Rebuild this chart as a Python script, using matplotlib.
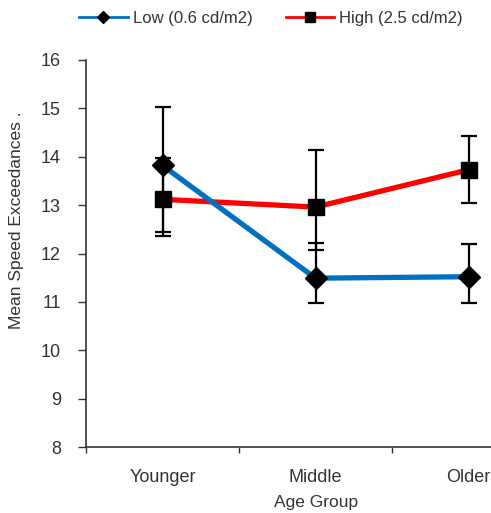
import numpy as np
import matplotlib.pyplot as plt
from matplotlib.lines import Line2D

plt.rcParams['font.family'] = ['Liberation Sans', 'DejaVu Sans']

groups = ['Younger', 'Middle', 'Older']
low_mean = [13.82, 11.49, 11.52]
low_up = [15.03, 12.21, 12.20]
low_down = [12.37, 10.98, 10.98]
high_mean = [13.12, 12.96, 13.73]
high_up = [13.98, 14.13, 14.43]
high_down = [12.44, 12.07, 13.05]

x = np.arange(len(groups))
low_err = [np.subtract(low_mean, low_down), np.subtract(low_up, low_mean)]
high_err = [np.subtract(high_mean, high_down), np.subtract(high_up, high_mean)]

fig = plt.figure(figsize=(4.91, 5.13), dpi=100)
ax = fig.add_axes([86/491, 1-447/513, 459/491, 387/513])

ax.errorbar(x, low_mean, yerr=low_err, color='#0070C0', lw=3.8, marker='D', ms=11,
            mfc='black', mec='black', ecolor='black', elinewidth=1.6, capsize=6,
            capthick=1.6, zorder=3)
ax.errorbar(x, high_mean, yerr=high_err, color='#FF0000', lw=3.8, marker='s', ms=12,
            mfc='black', mec='black', ecolor='black', elinewidth=1.6, capsize=6,
            capthick=1.6, zorder=2)

ax.set_xlim(-0.5, 2.5)
ax.set_ylim(8, 16)
ax.set_yticks(range(8, 17))
ax.set_xticks([-0.5, 0.5, 1.5, 2.5])
ax.set_xticklabels([])
ax.set_xticks(x, minor=True)
ax.set_xticklabels(groups, minor=True)
ax.tick_params(axis='x', which='minor', length=0, pad=16, labelsize=13, colors='#333333')
ax.tick_params(axis='x', which='major', length=4, width=1, colors='#333333')
ax.tick_params(axis='y', length=6, width=1, pad=12, labelsize=13, colors='#333333')
for s in ['top', 'right']:
    ax.spines[s].set_visible(False)
for s in ['left', 'bottom']:
    ax.spines[s].set_linewidth(1.2)
    ax.spines[s].set_color('#333333')

ax.set_xlabel('Age Group', fontsize=12.5, color='#333333', va='center')
ax.xaxis.set_label_coords((316 - 86) / 459, -(503 - 447) / 387)
ax.set_ylabel('Mean Speed Exceedances .', fontsize=12.5, color='#333333', va='center')
ax.yaxis.set_label_coords(-(86 - 17) / 459, (447 - 220) / 387)

handles = [Line2D([], [], color='#0070C0', lw=2, marker='D', ms=6, mfc='black', mec='black'),
           Line2D([], [], color='#FF0000', lw=2, marker='s', ms=7, mfc='black', mec='black')]
labels = ['Low (0.6 cd/m2)', 'High (2.5 cd/m2)']
fig.legend(handles, labels, loc='center', bbox_to_anchor=(271/491, 1-18/513), ncol=2, frameon=False,
           fontsize=12, handlelength=2.9, columnspacing=2.0, handletextpad=0.3, labelcolor='#333333')

fig.savefig('out.png', dpi=100)
